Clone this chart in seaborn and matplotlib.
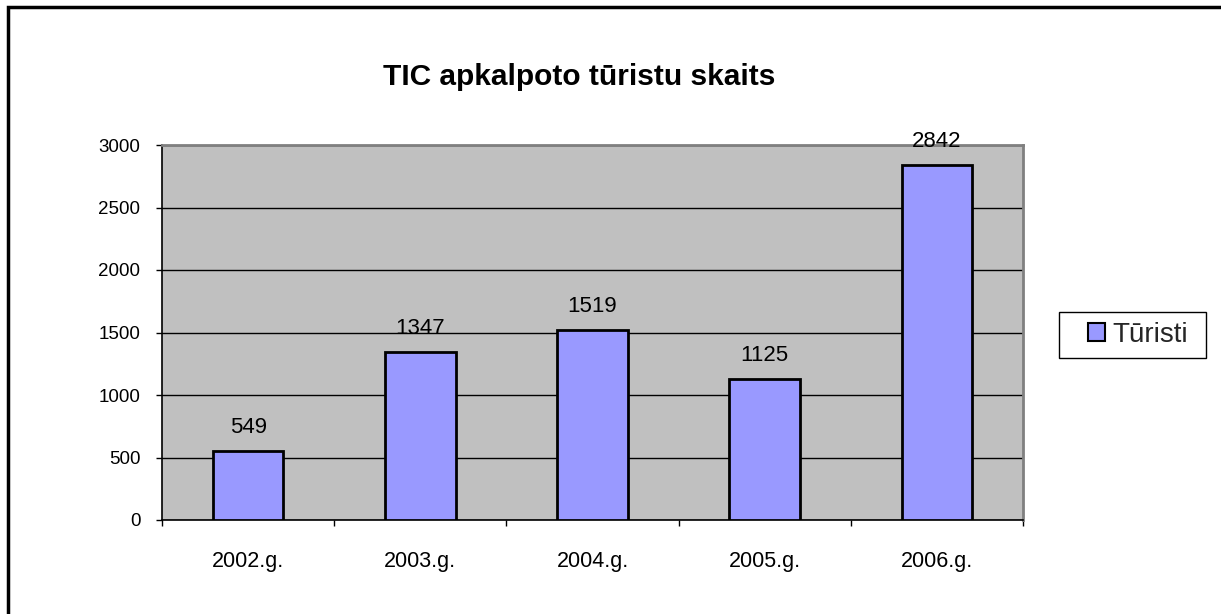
import matplotlib
matplotlib.use("Agg")
import matplotlib.pyplot as plt
import matplotlib.patches as mpatches
import seaborn as sns
import pandas as pd

categories = ["2002.g.", "2003.g.", "2004.g.", "2005.g.", "2006.g."]
values = [549, 1347, 1519, 1125, 2842]
series_name = "Tūristi"
title = "TIC apkalpoto tūristu skaits"
yticks = [0, 500, 1000, 1500, 2000, 2500, 3000]

sns.set_theme(style="white")
plt.rcParams['font.family'] = ['Liberation Sans', 'DejaVu Sans']

df = pd.DataFrame({"year": categories, "value": values})

fig = plt.figure(figsize=(12.21, 6.14), dpi=100)
ax = fig.add_axes([162/1221, 1-520/614, (1023-162)/1221, (520-145)/614])
ax.set_facecolor("#C0C0C0")

sns.barplot(data=df, x="year", y="value", color="#9999FF", width=0.41,
            edgecolor="black", linewidth=2, saturation=1, ax=ax, zorder=3)

ax.set_ylim(0, 3000)
ax.set_xlim(-0.5, len(categories) - 0.5)
ax.set_yticks(yticks)
ax.set_yticklabels([str(v) for v in yticks], fontsize=13.5, color="black")
ax.yaxis.grid(True, color="black", linewidth=1)
ax.set_axisbelow(True)
ax.set_xlabel("")
ax.set_ylabel("")

ax.tick_params(axis="y", which="major", left=True, length=4.5, width=1, color="black", pad=11)
ax.set_xticks(range(len(categories)))
ax.set_xticklabels(categories, fontsize=15.5, color="black")
ax.tick_params(axis="x", which="major", bottom=False, pad=16)
ax.set_xticks([i - 0.5 for i in range(len(categories) + 1)], minor=True)
ax.tick_params(axis="x", which="minor", bottom=True, length=4.5, width=1, color="black")

for s in ["left", "bottom"]:
    ax.spines[s].set_color("black")
    ax.spines[s].set_linewidth(1.2)
for s in ["top", "right"]:
    ax.spines[s].set_color("#808080")
    ax.spines[s].set_linewidth(2)

for i, v in enumerate(values):
    ax.annotate(str(v), (i, v), xytext=(0, 13), textcoords="offset points",
                ha="center", va="baseline", fontsize=16, color="black")

fig.text(579/1221, 1-85/614, title, ha="center", va="baseline",
         fontsize=21.5, fontweight="bold", color="black")

handle = mpatches.Patch(facecolor="#9999FF", edgecolor="black", linewidth=1.5, label=series_name)
leg = fig.legend(handles=[handle], loc="center", bbox_to_anchor=(1138/1221, 1-335/614),
                 fontsize=20, frameon=False,
                 handlelength=0.6, handleheight=0.6, handletextpad=0.25,
                 borderpad=0.2, borderaxespad=0)

legend_frame = mpatches.Rectangle((1059/1221, 1-358/614), (1206-1059)/1221, (358-312)/614,
                                  transform=fig.transFigure, fill=False,
                                  edgecolor="black", linewidth=1)
fig.patches.append(legend_frame)

border = mpatches.Rectangle((8/1221, -0.1), 1.2, 1 - 7/614 + 0.1, transform=fig.transFigure,
                            fill=False, edgecolor="black", linewidth=2.5)
fig.patches.append(border)

fig.savefig("out.png", dpi=100, facecolor="white")
